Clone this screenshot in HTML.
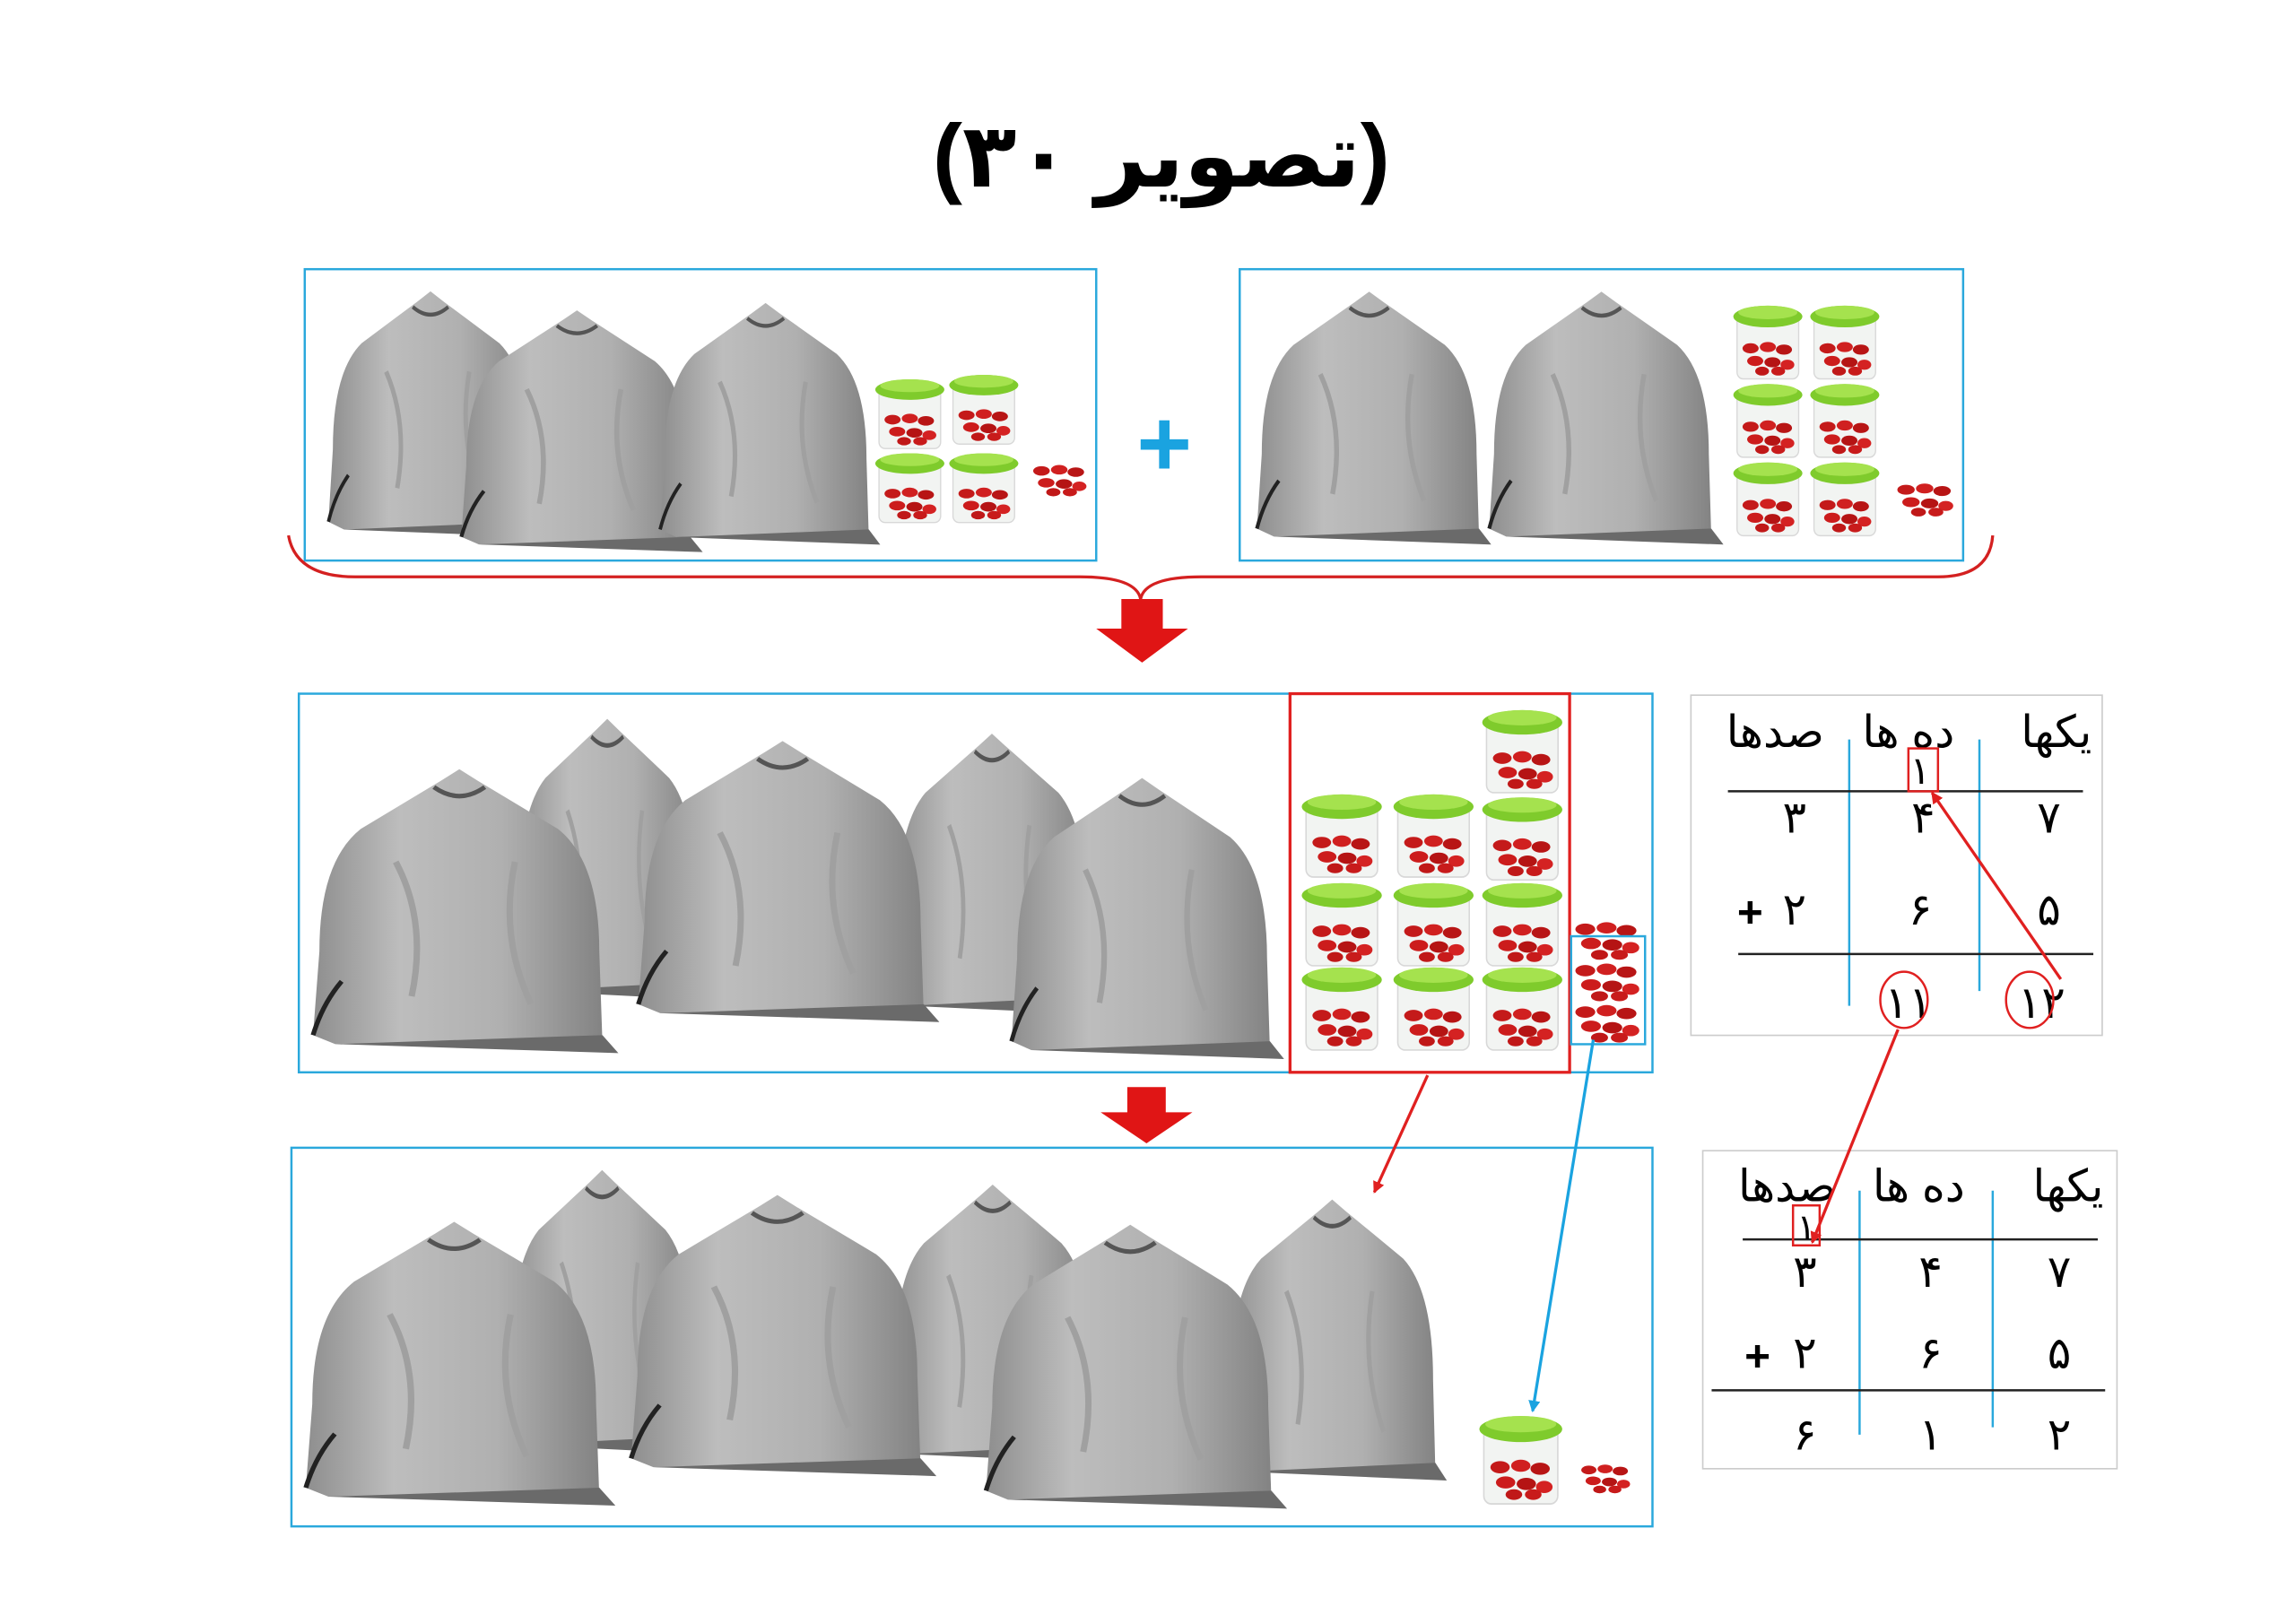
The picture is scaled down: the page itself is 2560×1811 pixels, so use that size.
<!DOCTYPE html>
<html><head><meta charset="utf-8"><style>
html,body{margin:0;padding:0;background:#fff;width:2560px;height:1811px;overflow:hidden}
svg{display:block}
text{font-family:"Liberation Sans","DejaVu Sans",sans-serif}
</style></head><body>
<svg width="2560" height="1811" viewBox="0 0 1552 1098" preserveAspectRatio="none" xmlns="http://www.w3.org/2000/svg">
<defs>
<linearGradient id="bg" x1="0" y1="0" x2="1" y2="0">
<stop offset="0" stop-color="#8e8e8e"/><stop offset="0.3" stop-color="#bdbdbd"/><stop offset="0.65" stop-color="#b0b0b0"/><stop offset="1" stop-color="#838383"/></linearGradient>
<symbol id="bag" viewBox="0 0 200 200" preserveAspectRatio="none">
<path d="M22 192 L8 186 L12 130 Q12 70 38 48 Q66 30 88 16 L100 8 L112 16 Q134 30 162 48 Q188 70 188 130 L190 192 Z" fill="url(#bg)"/>
<path d="M8 186 Q14 165 26 150" stroke="#222" stroke-width="3" fill="none"/>
<path d="M84 20 Q100 32 116 20" stroke="#555" stroke-width="3" fill="none"/>
<path d="M22 192 L200 198 L190 186" fill="#6a6a6a"/>
<path d="M60 70 Q80 110 70 160 M135 70 Q125 120 145 165" stroke="#a0a0a0" stroke-width="4" fill="none"/>
</symbol>
<symbol id="beans" viewBox="0 0 50 30">
<ellipse cx="10" cy="8" rx="7" ry="4" fill="#c41a1a"/><ellipse cx="25" cy="7" rx="7" ry="4" fill="#d02020"/><ellipse cx="39" cy="9" rx="7" ry="4" fill="#b81515"/>
<ellipse cx="14" cy="18" rx="7" ry="4" fill="#cc1c1c"/><ellipse cx="29" cy="19" rx="7" ry="4" fill="#b51414"/><ellipse cx="42" cy="21" rx="6" ry="4" fill="#d42222"/>
<ellipse cx="20" cy="26" rx="6" ry="3.5" fill="#c01818"/><ellipse cx="34" cy="26" rx="6" ry="3.5" fill="#c81b1b"/>
</symbol>
<symbol id="jar" viewBox="0 0 60 60" preserveAspectRatio="none">
<rect x="5" y="10" width="50" height="48" rx="5" fill="#f2f4f2" stroke="#d8d8d8"/>
<use href="#beans" x="6" y="28" width="48" height="28"/>
<ellipse cx="30" cy="12" rx="28" ry="8" fill="#7fcb2c"/>
<ellipse cx="30" cy="9" rx="24" ry="5" fill="#a5e24e"/>
</symbol>
<marker id="ar" markerWidth="8" markerHeight="8" refX="7" refY="4" orient="auto" markerUnits="userSpaceOnUse"><path d="M0 0 L8 4 L0 8 Z" fill="#e02020"/></marker>
<marker id="ab" markerWidth="8" markerHeight="8" refX="7" refY="4" orient="auto" markerUnits="userSpaceOnUse"><path d="M0 0 L8 4 L0 8 Z" fill="#1aa3e0"/></marker>
</defs>

<text x="785" y="126" font-size="60" font-weight="bold" text-anchor="middle" direction="rtl" font-family="'DejaVu Sans','Noto Sans CJK SC',sans-serif">(تصویر ۳۰)</text>

<rect x="206" y="182" width="535" height="197" fill="none" stroke="#2aa8dc" stroke-width="1.5"/>
<rect x="838" y="182" width="489" height="197" fill="none" stroke="#2aa8dc" stroke-width="1.5"/>
<use href="#bag" x="216" y="190" width="150" height="175"/>
<use href="#bag" x="305" y="203" width="170" height="172"/>
<use href="#bag" x="440" y="198" width="155" height="172"/>
<use href="#jar" x="590" y="253" width="50" height="52"/><use href="#jar" x="640" y="250" width="50" height="52"/>
<use href="#jar" x="590" y="303" width="50" height="52"/><use href="#jar" x="640" y="303" width="50" height="52"/>
<use href="#beans" x="696" y="300" width="40" height="48"/>
<text x="787" y="322" font-size="64" font-weight="bold" fill="#1aa3e0" text-anchor="middle">+</text>
<use href="#bag" x="843" y="190" width="165" height="180"/>
<use href="#bag" x="1000" y="190" width="165" height="180"/>
<use href="#jar" x="1170" y="203" width="50" height="55"/><use href="#jar" x="1222" y="203" width="50" height="55"/>
<use href="#jar" x="1170" y="256" width="50" height="55"/><use href="#jar" x="1222" y="256" width="50" height="55"/>
<use href="#jar" x="1170" y="309" width="50" height="55"/><use href="#jar" x="1222" y="309" width="50" height="55"/>
<use href="#beans" x="1280" y="318" width="42" height="38"/>

<path d="M195 362 Q200 390 240 390 L730 390 Q768 390 771 405 Q774 390 812 390 L1310 390 Q1345 390 1347 362" fill="none" stroke="#d42020" stroke-width="2"/>
<path d="M758 405 L786 405 L786 425 L803 425 L772 448 L741 425 L758 425 Z" fill="#e01515"/>

<rect x="202" y="469" width="915" height="256" fill="none" stroke="#2aa8dc" stroke-width="1.5"/>
<use href="#bag" x="343" y="478" width="135" height="200"/>
<use href="#bag" x="598" y="488" width="145" height="200"/>
<use href="#bag" x="203" y="512" width="215" height="202"/>
<use href="#bag" x="423" y="493" width="212" height="200"/>
<use href="#bag" x="676" y="518" width="192" height="200"/>
<rect x="872" y="469" width="189" height="256" fill="#fff" stroke="#e02020" stroke-width="2"/>
<use href="#jar" x="878" y="533" width="58" height="62"/><use href="#jar" x="940" y="533" width="58" height="62"/><use href="#jar" x="1000" y="476" width="58" height="62"/>
<use href="#jar" x="1000" y="535" width="58" height="62"/>
<use href="#jar" x="878" y="593" width="58" height="62"/><use href="#jar" x="940" y="593" width="58" height="62"/><use href="#jar" x="1000" y="593" width="58" height="62"/>
<use href="#jar" x="878" y="650" width="58" height="62"/><use href="#jar" x="940" y="650" width="58" height="62"/><use href="#jar" x="1000" y="650" width="58" height="62"/>
<use href="#beans" x="1062" y="620" width="48" height="30"/><use href="#beans" x="1062" y="648" width="48" height="30"/><use href="#beans" x="1062" y="676" width="48" height="30"/>
<rect x="1062" y="633" width="50" height="73" fill="none" stroke="#2aa8dc" stroke-width="1.5"/>

<path d="M762 735 L788 735 L788 752 L806 752 L775 773 L744 752 L762 752 Z" fill="#e01515"/>

<rect x="197" y="776" width="920" height="256" fill="none" stroke="#2aa8dc" stroke-width="1.5"/>
<use href="#bag" x="338" y="783" width="138" height="202"/>
<use href="#bag" x="596" y="793" width="150" height="198"/>
<use href="#bag" x="823" y="803" width="155" height="200"/>
<use href="#bag" x="198" y="818" width="218" height="202"/>
<use href="#bag" x="418" y="800" width="215" height="200"/>
<use href="#bag" x="658" y="820" width="212" height="202"/>
<use href="#jar" x="998" y="953" width="60" height="66"/>
<use href="#beans" x="1060" y="988" width="50" height="22"/>
<line x1="965" y1="727" x2="929" y2="806" stroke="#e02020" stroke-width="2" marker-end="url(#ar)"/>
<line x1="1077" y1="703" x2="1036" y2="954" stroke="#1aa3e0" stroke-width="2" marker-end="url(#ab)"/>

<g font-family="'DejaVu Sans',sans-serif" font-size="30" text-anchor="middle">
<rect x="1143" y="470" width="278" height="230" fill="#fff" stroke="#ccc"/>
<text x="1390" y="505" direction="rtl">یکها</text><text x="1290" y="505" direction="rtl">ده ها</text><text x="1200" y="505" direction="rtl">صدها</text>
<line x1="1250" y1="500" x2="1250" y2="680" stroke="#2aa8dc" stroke-width="1.5"/>
<line x1="1338" y1="500" x2="1338" y2="670" stroke="#2aa8dc" stroke-width="1.5"/>
<line x1="1168" y1="535" x2="1408" y2="535" stroke="#222" stroke-width="1.5"/>
<line x1="1175" y1="645" x2="1415" y2="645" stroke="#222" stroke-width="1.5"/>
<text x="1298" y="530" font-size="26">۱</text>
<rect x="1290" y="506" width="20" height="29" fill="none" stroke="#e02020" stroke-width="1.5"/>
<text x="1213" y="563">۳</text><text x="1300" y="563">۴</text><text x="1385" y="563">۷</text>
<text x="1183" y="627" font-weight="bold">+</text><text x="1213" y="625">۲</text><text x="1298" y="625">۶</text><text x="1385" y="625">۵</text>
<text x="1290" y="688">۱۱</text><text x="1380" y="688">۱۲</text>
<ellipse cx="1287" cy="676" rx="16" ry="19" fill="none" stroke="#e02020" stroke-width="1.5"/>
<ellipse cx="1372" cy="676" rx="16" ry="19" fill="none" stroke="#e02020" stroke-width="1.5"/>
<line x1="1393" y1="662" x2="1306" y2="536" stroke="#e02020" stroke-width="2" marker-end="url(#ar)"/>

<rect x="1151" y="778" width="280" height="215" fill="#fff" stroke="#ccc"/>
<text x="1398" y="812" direction="rtl">یکها</text><text x="1297" y="812" direction="rtl">ده ها</text><text x="1208" y="812" direction="rtl">صدها</text>
<line x1="1257" y1="805" x2="1257" y2="970" stroke="#2aa8dc" stroke-width="1.5"/>
<line x1="1347" y1="805" x2="1347" y2="965" stroke="#2aa8dc" stroke-width="1.5"/>
<line x1="1178" y1="838" x2="1418" y2="838" stroke="#222" stroke-width="1.5"/>
<line x1="1157" y1="940" x2="1423" y2="940" stroke="#222" stroke-width="1.5"/>
<text x="1221" y="838" font-size="24">۱</text>
<rect x="1212" y="815" width="18" height="27" fill="none" stroke="#e02020" stroke-width="1.5"/>
<line x1="1283" y1="696" x2="1225" y2="840" stroke="#e02020" stroke-width="2" marker-end="url(#ar)"/>
<text x="1220" y="870">۳</text><text x="1305" y="870">۴</text><text x="1392" y="870">۷</text>
<text x="1188" y="927" font-weight="bold">+</text><text x="1220" y="925">۲</text><text x="1305" y="925">۶</text><text x="1392" y="925">۵</text>
<text x="1220" y="980">۶</text><text x="1305" y="980">۱</text><text x="1392" y="980">۲</text>
</g>
</svg>
</body></html>
